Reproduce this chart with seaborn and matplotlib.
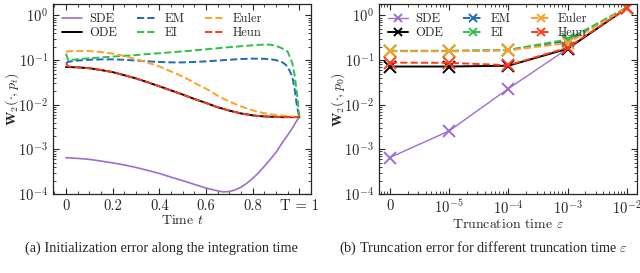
import numpy as np
import pandas as pd
import matplotlib
matplotlib.use("Agg")
import matplotlib.pyplot as plt
import matplotlib.ticker as mticker
import seaborn as sns

# ---- data: (a) error along integration time ----
t = [0, 0.01, 0.05, 0.1, 0.15, 0.2, 0.25, 0.3, 0.35, 0.4, 0.45, 0.5, 0.55,
     0.6, 0.65, 0.675, 0.7, 0.725, 0.75, 0.775, 0.8, 0.825, 0.85, 0.875, 0.9,
     0.93, 0.95, 0.97, 0.98, 0.99, 1.0]
sde_t = [6.5e-4, 6.5e-4, 6.3e-4, 6.0e-4, 5.5e-4, 5.0e-4, 4.5e-4, 3.95e-4, 3.4e-4,
         2.9e-4, 2.4e-4, 2.0e-4, 1.65e-4, 1.37e-4, 1.18e-4, 1.12e-4, 1.14e-4,
         1.24e-4, 1.43e-4, 1.75e-4, 2.25e-4, 3.0e-4, 4.2e-4, 6.0e-4, 8.6e-4,
         1.5e-3, 2.1e-3, 3.0e-3, 3.7e-3, 4.5e-3, 5.3e-3]
ode_t = [0.070, 0.070, 0.069, 0.066, 0.060, 0.054, 0.046, 0.039, 0.032, 0.026,
         0.021, 0.017, 0.0135, 0.011, 0.0088, 0.0081, 0.0074, 0.0069, 0.0064,
         0.0061, 0.0058, 0.0056, 0.0055, 0.0054, 0.0054, 0.0053, 0.0053, 0.0053,
         0.0053, 0.0053, 0.0053]
heun_t = [0.085, 0.072, 0.069, 0.066, 0.060, 0.054, 0.046, 0.039, 0.032, 0.026,
          0.021, 0.017, 0.0135, 0.011, 0.0088, 0.0081, 0.0074, 0.0069, 0.0064,
          0.0061, 0.0058, 0.0056, 0.0055, 0.0054, 0.0054, 0.0053, 0.0053, 0.0053,
          0.0053, 0.0053, 0.0053]
euler_t = [0.155, 0.158, 0.16, 0.16, 0.152, 0.14, 0.124, 0.105, 0.088, 0.072,
           0.056, 0.043, 0.031, 0.023, 0.016, 0.0137, 0.0118, 0.0104, 0.0092,
           0.0083, 0.0075, 0.0069, 0.0065, 0.0062, 0.0059, 0.0057, 0.0056,
           0.0055, 0.0054, 0.0054, 0.0053]
ei_t = [0.14, 0.10, 0.105, 0.11, 0.115, 0.12, 0.125, 0.13, 0.137, 0.143, 0.15,
        0.157, 0.165, 0.175, 0.185, 0.19, 0.195, 0.2, 0.205, 0.21, 0.215, 0.22,
        0.223, 0.222, 0.21, 0.18, 0.155, 0.085, 0.045, 0.017, 0.0053]
em_t = [0.085, 0.092, 0.098, 0.102, 0.104, 0.104, 0.102, 0.098, 0.094, 0.091,
        0.089, 0.089, 0.091, 0.094, 0.098, 0.1, 0.102, 0.104, 0.106, 0.107,
        0.108, 0.108, 0.107, 0.105, 0.1, 0.088, 0.072, 0.042, 0.022, 0.009, 0.0053]

# ---- data: (b) error vs truncation time (eps = 0 drawn at 1e-6) ----
eps = [1e-6, 1e-5, 1e-4, 1e-3, 1e-2]
eps_labels = ["0", "$10^{-5}$", "$10^{-4}$", "$10^{-3}$", "$10^{-2}$"]
sde_e = [6.6e-4, 2.6e-3, 2.3e-2, 0.18, 1.45]
ode_e = [0.072, 0.072, 0.075, 0.18, 1.45]
em_e = [0.16, 0.16, 0.168, 0.27, 1.5]
ei_e = [0.162, 0.162, 0.17, 0.29, 1.5]
euler_e = [0.158, 0.158, 0.166, 0.24, 1.48]
heun_e = [0.088, 0.087, 0.077, 0.19, 1.45]

names = ["SDE", "ODE", "EM", "EI", "Euler", "Heun"]
colors = {"SDE": "#9b6fd0", "ODE": "black", "EM": "#2069b8", "EI": "#2cc14a",
          "Euler": "#ffa126", "Heun": "#ff3a1a"}
styles = {"SDE": "-", "ODE": "-", "EM": "--", "EI": "--", "Euler": "--", "Heun": "--"}
curves_t = {"SDE": sde_t, "ODE": ode_t, "EM": em_t, "EI": ei_t,
            "Euler": euler_t, "Heun": heun_t}
curves_e = {"SDE": sde_e, "ODE": ode_e, "EM": em_e, "EI": ei_e,
            "Euler": euler_e, "Heun": heun_e}

sns.set_style("ticks")
plt.rcParams["font.family"] = ["cmr10", "DejaVu Serif"]
plt.rcParams["mathtext.fontset"] = "cm"
plt.rcParams["axes.formatter.use_mathtext"] = True
plt.rcParams["axes.unicode_minus"] = False
plt.rcParams["xtick.direction"] = "in"
plt.rcParams["ytick.direction"] = "in"
plt.rcParams["xtick.top"] = True
plt.rcParams["ytick.right"] = True
plt.rcParams["font.size"] = 10

fig = plt.figure(figsize=(6.4, 2.73), dpi=100)
ax1 = fig.add_axes([0.083, 0.289, 0.403, 0.696])
ax2 = fig.add_axes([0.592, 0.289, 0.403, 0.696])

for n in names:
    sns.lineplot(x=t, y=curves_t[n], ax=ax1, color=colors[n], linestyle=styles[n],
                 linewidth=1.4 if n != "SDE" else 1.2, label=n)

for n in names:
    sns.lineplot(x=eps, y=curves_e[n], ax=ax2, color=colors[n], linestyle=styles[n],
                 linewidth=1.4 if n != "SDE" else 1.0, marker="x", markersize=8,
                 markeredgewidth=1.4, markeredgecolor=colors[n], label=n)

for ax in (ax1, ax2):
    ax.set_yscale("log")
    ax.set_ylim(1e-4, 1.8)
    ax.yaxis.set_major_locator(mticker.LogLocator(base=10, numticks=10))
    ax.yaxis.set_minor_locator(mticker.LogLocator(base=10, subs=np.arange(2, 10), numticks=10))
    ax.yaxis.set_minor_formatter(mticker.NullFormatter())
    ax.tick_params(which="major", length=4, width=0.8, labelsize=10.5)
    ax.tick_params(which="minor", length=2, width=0.6)
    for s in ax.spines.values():
        s.set_linewidth(0.9)
    ax.legend(ncol=3, loc="upper left", frameon=False, fontsize=9,
              handlelength=1.6, handletextpad=0.6, columnspacing=1.6,
              labelspacing=0.15, borderaxespad=0.3, markerscale=0.75)

ax1.set_xlim(-0.055, 1.05)
ax1.set_xticks([0, 0.2, 0.4, 0.6, 0.8, 1.0])
ax1.set_xticklabels(["0", "0.2", "0.4", "0.6", "0.8", "T = 1"])
ax1.xaxis.set_minor_locator(mticker.MultipleLocator(0.05))
ax1.set_xlabel("Time $t$", fontsize=10, labelpad=1)
ax1.set_ylabel(r"$\mathbf{W}_2(\cdot, p_t)$", fontsize=10)
ax1.yaxis.set_label_coords(-0.125, 0.5)

ax2.set_xscale("log")
ax2.set_xlim(6.5e-7, 1.48e-2)
ax2.set_xticks(eps)
ax2.set_xticklabels(eps_labels)
ax2.xaxis.set_minor_locator(mticker.LogLocator(base=10, subs=np.arange(2, 10), numticks=20))
ax2.xaxis.set_minor_formatter(mticker.NullFormatter())
ax2.set_xlabel(r"Truncation time $\varepsilon$", fontsize=10, labelpad=1)
ax2.set_ylabel(r"$\mathbf{W}_2(\cdot, p_0)$", fontsize=10)
ax2.yaxis.set_label_coords(-0.125, 0.5)

fig.text(0.252, 0.092, "(a) Initialization error along the integration time",
         ha="center", va="center", fontsize=10.3, family="Liberation Serif")
fig.text(0.755, 0.092, r"(b) Truncation error for different truncation time $\varepsilon$",
         ha="center", va="center", fontsize=10.3, family="Liberation Serif")

fig.savefig("out.png", dpi=100)
